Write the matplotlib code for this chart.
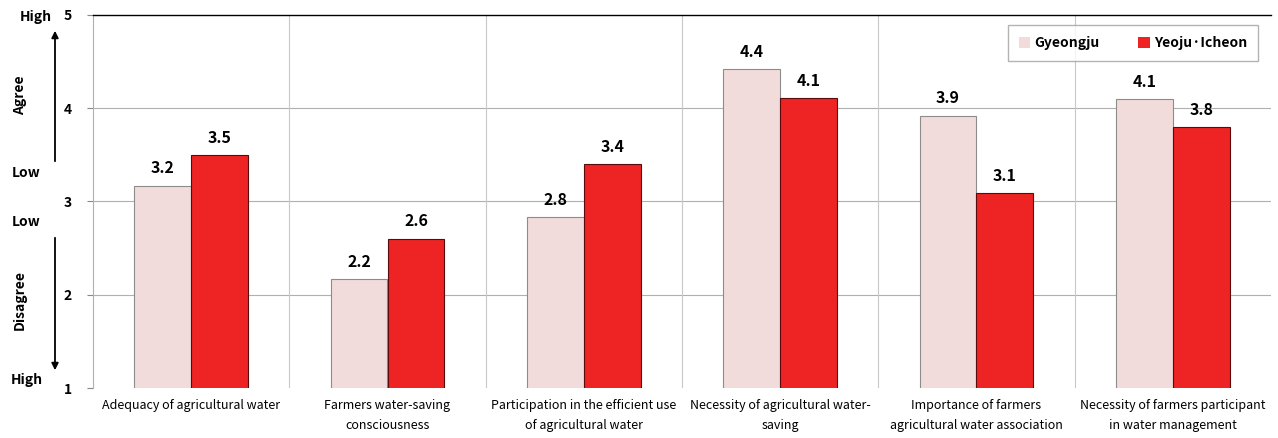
import matplotlib
matplotlib.use("Agg")
import matplotlib.pyplot as plt
import numpy as np

categories = ["Adequacy of agricultural water",
              "Farmers water-saving\nconsciousness",
              "Participation in the efficient use\nof agricultural water",
              "Necessity of agricultural water-\nsaving",
              "Importance of farmers\nagricultural water association",
              "Necessity of farmers participant\nin water management"]
gyeongju = [3.17, 2.17, 2.83, 4.42, 3.92, 4.10]
yeoju = [3.50, 2.60, 3.40, 4.11, 3.09, 3.80]
series_names = ["Gyeongju", "Yeoju·Icheon"]
yticks = [1, 2, 3, 4, 5]

plt.rcParams['font.family'] = ['Noto Sans CJK KR', 'DejaVu Sans']

fig = plt.figure(figsize=(12.78, 4.38), dpi=100)
ax = fig.add_axes([93/1278, 50/438, 1178/1278, 373/438])

x = np.arange(len(categories))
w = 0.29
b1 = ax.bar(x - w/2, gyeongju, w, color="#F2DCDB", edgecolor="#8C8C8C", linewidth=0.8, label=series_names[0], zorder=3)
b2 = ax.bar(x + w/2, yeoju, w, color="#EE2424", edgecolor="#5A0A0A", linewidth=0.8, label=series_names[1], zorder=3)

for rect, v in zip(b1, gyeongju):
    ax.text(rect.get_x() + rect.get_width()/2, v + 0.1, f"{v:.1f}", ha="center", va="bottom", fontsize=11.5, fontweight="bold")
for rect, v in zip(b2, yeoju):
    ax.text(rect.get_x() + rect.get_width()/2, v + 0.1, f"{v:.1f}", ha="center", va="bottom", fontsize=11.5, fontweight="bold")

ax.set_ylim(1, 5)
ax.set_xlim(-0.5, len(categories) - 0.5)
ax.set_yticks(yticks)
ax.set_yticklabels([str(t) for t in yticks], fontsize=10, fontweight="bold")
ax.tick_params(axis="y", length=4, pad=11, color="#888888")
ax.set_xticks(x)
ax.set_xticklabels(categories, fontsize=9, linespacing=1.7)
ax.tick_params(axis="x", length=0, pad=8)

for yy in [2, 3, 4]:
    ax.axhline(yy, color="#B0B0B0", linewidth=0.8, zorder=1)
for xx in np.arange(0.5, len(categories) - 0.5, 1):
    ax.axvline(xx, color="#C8C8C8", linewidth=0.8, zorder=1)

for s in ["right", "bottom"]:
    ax.spines[s].set_visible(False)
ax.spines["left"].set_color("#B0B0B0")
ax.spines["top"].set_color("#000000")
ax.spines["top"].set_linewidth(1.0)

leg = ax.legend(loc="upper right", bbox_to_anchor=(1172/1178, 1 - 3/373), ncol=2, frameon=True,
                fancybox=False, edgecolor="#A0A0A0", handlelength=0.8, handleheight=0.8,
                columnspacing=2.8, handletextpad=0.3, borderpad=0.8, prop={"weight": "bold", "size": 10})
leg.get_frame().set_linewidth(1.0)
for h in leg.legend_handles:
    h.set_edgecolor("none")

# Left annotations
fs = 10
fig.text(36/1278, 1 - 17/438, "High", ha="center", va="center", fontsize=fs, fontweight="bold")
fig.text(20/1278, 1 - 95/438, "Agree", ha="center", va="center", fontsize=fs, fontweight="bold", rotation=90)
fig.text(26/1278, 1 - 173/438, "Low", ha="center", va="center", fontsize=fs, fontweight="bold")
fig.text(26/1278, 1 - 222/438, "Low", ha="center", va="center", fontsize=fs, fontweight="bold")
fig.text(20/1278, 1 - 300/438, "Disagree", ha="center", va="center", fontsize=fs, fontweight="bold", rotation=90)
fig.text(27/1278, 1 - 380/438, "High", ha="center", va="center", fontsize=fs, fontweight="bold")
fig.add_artist(matplotlib.patches.FancyArrowPatch((55/1278, 1 - 164/438), (55/1278, 1 - 28/438),
               transform=fig.transFigure, arrowstyle="-|>", mutation_scale=10, color="black", linewidth=1.3))
fig.add_artist(matplotlib.patches.FancyArrowPatch((55/1278, 1 - 235/438), (55/1278, 1 - 373/438),
               transform=fig.transFigure, arrowstyle="-|>", mutation_scale=10, color="black", linewidth=1.3))

fig.savefig("out.png", dpi=100)
